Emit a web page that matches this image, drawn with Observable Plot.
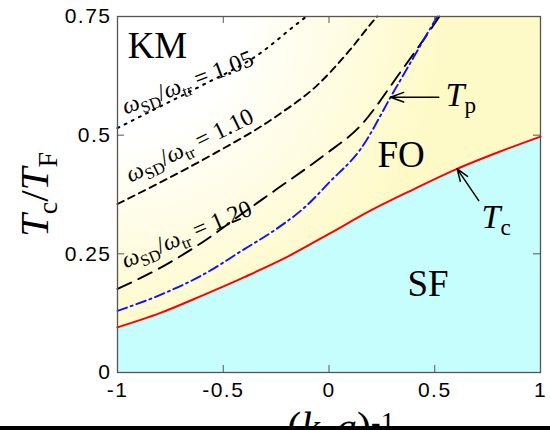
<!DOCTYPE html>
<html><head><meta charset="utf-8">
<script src="https://cdn.jsdelivr.net/npm/d3@7"></script>
<script src="https://cdn.jsdelivr.net/npm/@observablehq/plot@0.6"></script>
<style>
html,body{margin:0;padding:0;background:#fff;overflow:hidden;}
#wrap{position:relative;width:550px;height:430px;overflow:hidden;}
#bar{position:absolute;left:0;top:426px;width:550px;height:4px;background:#000;}
</style></head><body><div id="wrap"><div id="bar"></div></div>
<script>
// ---- data ----
const xTicks = [-1, -0.5, 0, 0.5, 1];
const xTickLabels = ["-1", "-0.5", "0", "0.5", "1"];
const yTicks = [0, 0.25, 0.5, 0.75];
const yTickLabels = ["0", "0.25", "0.5", "0.75"];

const tcX = [-1, -0.8, -0.6, -0.4, -0.2, 0, 0.2, 0.4, 0.6, 0.8, 1];
const tcY = [0.095, 0.125, 0.162, 0.201, 0.243, 0.292, 0.342, 0.386, 0.428, 0.464, 0.497];

const tpX = [-1, -0.8, -0.6, -0.4, -0.25, -0.1, 0, 0.15, 0.3, 0.4, 0.5, 0.512];
const tpY = [0.13, 0.163, 0.205, 0.26, 0.302, 0.354, 0.40, 0.471, 0.587, 0.664, 0.741, 0.75];

const r120X = [-1, -0.8, -0.6, -0.4, -0.245, -0.025, 0.149, 0.338, 0.51, 0.522];
const r120Y = [0.176, 0.22, 0.274, 0.338, 0.387, 0.457, 0.52, 0.633, 0.742, 0.75];

const r110X = [-1, -0.8, -0.56, -0.245, -0.056, 0.1, 0.212, 0.228];
const r110Y = [0.355, 0.40, 0.457, 0.541, 0.605, 0.68, 0.742, 0.75];

const r105X = [-1, -0.8, -0.6, -0.34, -0.15, -0.107];
const r105Y = [0.515, 0.56, 0.605, 0.668, 0.735, 0.75];

const curveLabels = ["ω_{SD}/ω_{tr} = 1.05", "ω_{SD}/ω_{tr} = 1.10", "ω_{SD}/ω_{tr} = 1.20"];
const curveLabelX = [-0.962, -0.939, -0.962];
const curveLabelY = [0.5435, 0.40, 0.219];
const curveLabelAngle = [-21, -26, -23];

const regionLabels = ["KM", "FO", "SF"];
const regionX = [-0.952, 0.229, 0.371];
const regionY = [0.6636, 0.432, 0.162];

const tLabels = ["T_{p}", "T_{c}"];
const tLabelX = [0.551, 0.721];
const tLabelY = [0.562, 0.305];

const arrowX1 = [0.519, 0.708];
const arrowY1 = [0.58, 0.362];
const arrowX2 = [0.291, 0.606];
const arrowY2 = [0.58, 0.429];

const yAxisLabel = "T_{c}/T_{F}";
const xAxisLabel = "(k_{F}a)^{-1}";

// ---- build tables ----
const zip = (xs, ys) => xs.map((x, i) => ({x, y: ys[i]}));
const tcData = zip(tcX, tcY);
const curveLab = curveLabels.map((t, i) => ({t, x: curveLabelX[i], y: curveLabelY[i], a: curveLabelAngle[i]}));
const regions = regionLabels.map((t, i) => ({t, x: regionX[i], y: regionY[i]}));
const tLab = tLabels.map((t, i) => ({t, x: tLabelX[i], y: tLabelY[i]}));
const arrows = arrowX1.map((x1, i) => ({x1, y1: arrowY1[i], x2: arrowX2[i], y2: arrowY2[i]}));

const SERIF = "Liberation Serif, Times New Roman, serif";
const SANS = "Liberation Sans, Arial, Helvetica, sans-serif";
const innerH = 430 - 16 - 58, innerW = 550 - 117 - 10, tick = 7;

const plot = Plot.plot({
  width: 550, height: 430,
  marginLeft: 117, marginRight: 10, marginTop: 16, marginBottom: 58,
  x: {domain: [-1, 1]},
  y: {domain: [0, 0.75]},
  style: {fontFamily: SANS, background: "transparent", color: "#000", overflow: "hidden"},
  marks: [
    Plot.areaY(tcData, {x: "x", y1: 0, y2: "y", fill: "#c6fefe", curve: "monotone-x"}),
    Plot.areaY(tcData, {x: "x", y1: "y", y2: 0.75, fill: "url(#bgGrad)", curve: "monotone-x"}),
    Plot.text(curveLab, {x: "x", y: "y", text: "t", rotate: "a", textAnchor: "start", lineAnchor: "bottom",
      fontFamily: SERIF, fontSize: 24, fill: "#000"}),
    Plot.line(zip(r105X, r105Y), {x: "x", y: "y", stroke: "#000", strokeWidth: 2, strokeDasharray: "2,6", curve: "monotone-x"}),
    Plot.line(zip(r110X, r110Y), {x: "x", y: "y", stroke: "#000", strokeWidth: 1.9, strokeDasharray: "7,5", curve: "monotone-x"}),
    Plot.line(zip(r120X, r120Y), {x: "x", y: "y", stroke: "#000", strokeWidth: 1.9, strokeDasharray: "15,8", curve: "monotone-x"}),
    Plot.line(zip(tpX, tpY), {x: "x", y: "y", stroke: "#1010ff", strokeWidth: 1.9, strokeDasharray: "10,4,2,4", curve: "monotone-x"}),
    Plot.line(tcData, {x: "x", y: "y", stroke: "#ff0000", strokeWidth: 2, curve: "monotone-x"}),
    Plot.frame({stroke: "#555", strokeWidth: 1.3}),
    Plot.tickX(xTicks, {insetTop: innerH - tick, stroke: "#555"}),
    Plot.tickX(xTicks, {insetBottom: innerH - tick, stroke: "#555"}),
    Plot.tickY(yTicks, {insetRight: innerW - tick, stroke: "#555"}),
    Plot.tickY(yTicks, {insetLeft: innerW - tick, stroke: "#555"}),
    Plot.axisX(xTicks, {tickSize: 0, tickPadding: 10, fontSize: 21, label: null,
      tickFormat: d => xTickLabels[xTicks.indexOf(d)]}),
    Plot.axisY(yTicks, {tickSize: 0, tickPadding: 6, fontSize: 21, label: null,
      tickFormat: d => yTickLabels[yTicks.indexOf(d)]}),
    Plot.text(regions, {x: "x", y: "y", text: "t", textAnchor: "start", lineAnchor: "bottom",
      fontFamily: SERIF, fontSize: 37}),
    Plot.text(tLab, {x: "x", y: "y", text: "t", textAnchor: "start", lineAnchor: "bottom",
      fontFamily: SERIF, fontSize: 34}),
    Plot.arrow(arrows, {x1: "x1", y1: "y1", x2: "x2", y2: "y2", stroke: "#000", strokeWidth: 1.5,
      headLength: 14, headAngle: 40}),
    Plot.text([yAxisLabel], {frameAnchor: "left", dx: -70, rotate: -90, textAnchor: "middle",
      lineAnchor: "bottom", fontFamily: SERIF, fontSize: 41}),
    Plot.text([xAxisLabel], {frameAnchor: "bottom", dx: 12, dy: 68, textAnchor: "middle",
      lineAnchor: "bottom", fontFamily: SERIF, fontSize: 42})
  ]
});

document.getElementById("wrap").prepend(plot);

// wider tick label spacing, as in the reference
plot.querySelectorAll('g[aria-label$="tick label"] text').forEach(t => t.setAttribute("letter-spacing", "1.5"));

// gradient for the area above Tc (white in the KM corner, pale yellow elsewhere)
const sx = plot.scale("x"), sy = plot.scale("y");
const cx = sx.apply(-1), cy = sy.apply(0.75);
const defs = d3.select(plot).insert("defs", ":first-child");
const grad = defs.append("radialGradient").attr("id", "bgGrad")
  .attr("gradientUnits", "userSpaceOnUse")
  .attr("cx", cx).attr("cy", cy).attr("r", (sx.apply(1) - cx) * 0.85);
grad.append("stop").attr("offset", 0).attr("stop-color", "#ffffff");
grad.append("stop").attr("offset", 0.33).attr("stop-color", "#ffffff");
grad.append("stop").attr("offset", 0.9).attr("stop-color", "#fefac8");
grad.append("stop").attr("offset", 1).attr("stop-color", "#fefac8");

// rich text: _{sub}, ^{sup}, letters italic
function richify(root) {
  const NS = "http://www.w3.org/2000/svg";
  root.querySelectorAll("text").forEach(el => {
    const s = el.textContent;
    if (!/[_^]\{/.test(s)) return;
    const fs = parseFloat(getComputedStyle(el).fontSize);
    const parts = s.split(/([_^]\{[^}]*\})/).filter(p => p.length);
    while (el.firstChild) el.removeChild(el.firstChild);
    el.style.whiteSpace = "pre";
    let off = 0;
    const add = (txt, o) => {
      const t = document.createElementNS(NS, "tspan");
      t.textContent = txt;
      if (o.off !== off) { t.setAttribute("dy", o.off - off); off = o.off; }
      if (o.size) t.setAttribute("font-size", o.size);
      if (o.italic) t.setAttribute("font-style", "italic");
      el.appendChild(t);
    };
    for (const p of parts) {
      const m = p.match(/^([_^])\{(.*)\}$/);
      if (m) add(m[2], {off: m[1] === "_" ? 0.22 * fs : -0.2 * fs, size: 0.68 * fs});
      else p.split(/([A-Za-zω]+)/).filter(q => q.length)
        .forEach(r => add(r, {off: 0, italic: /[A-Za-zω]/.test(r)}));
    }
  });
}
richify(plot);
</script>
</body></html>
